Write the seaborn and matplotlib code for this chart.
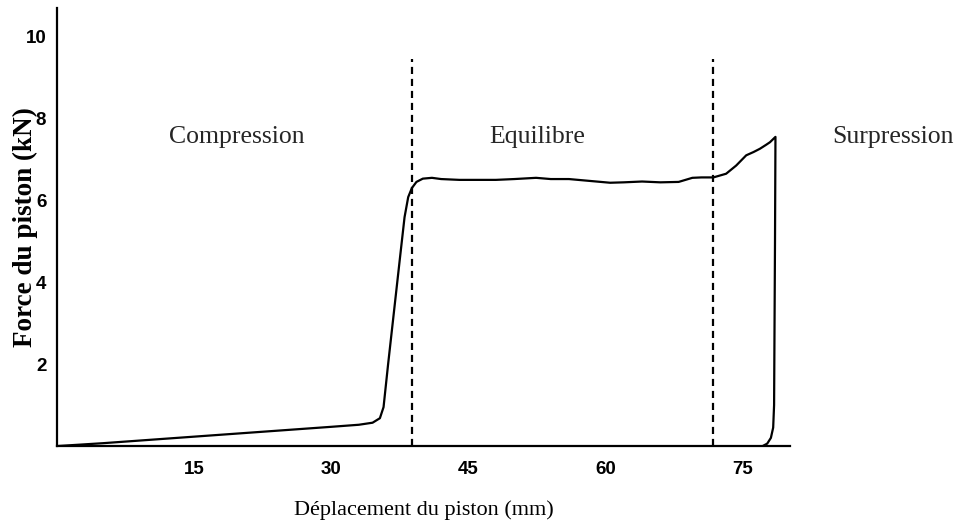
import matplotlib
matplotlib.use("Agg")
import matplotlib.pyplot as plt
import seaborn as sns
import pandas as pd

# Piston force vs displacement: loading, plateau, over-pressure, then unloading
displacement_mm = [0, 5, 10, 15, 20, 25, 30, 33, 34.5, 35.3, 35.7, 36.2, 36.9,
                   37.5, 38.0, 38.4, 38.8, 39.3, 40.0, 41, 42, 44, 46, 48, 50,
                   52.4, 54, 56, 58, 60.5, 62, 64, 66, 68, 69.5, 70.5, 71.8,
                   73.2, 74.3, 75.4, 76.2, 76.9, 77.6, 78.0, 78.6,
                   78.55, 78.45, 78.35, 78.1, 77.7, 77.2]
force_kN = [0, 0.07, 0.15, 0.23, 0.31, 0.39, 0.47, 0.52, 0.57, 0.68, 0.95, 2.0,
            3.4, 4.6, 5.59, 6.08, 6.3, 6.45, 6.53, 6.55, 6.52, 6.5, 6.5, 6.5,
            6.52, 6.55, 6.52, 6.52, 6.48, 6.43, 6.44, 6.46, 6.44, 6.45, 6.55,
            6.56, 6.56, 6.65, 6.85, 7.1, 7.18, 7.26, 7.36, 7.42, 7.55,
            5.0, 1.0, 0.45, 0.2, 0.06, 0.0]

phase_bounds = [38.8, 71.8]
phase_names = ["Compression", "Equilibre", "Surpression"]
phase_label_x = [19.6, 52.5, 91.5]

x_ticks = [15, 30, 45, 60, 75]
y_ticks = [2, 4, 6, 8, 10]

sns.set_theme(style="white")
plt.rcParams["font.family"] = ["Liberation Serif", "DejaVu Serif"]

fig = plt.figure(figsize=(9.73, 5.26), dpi=100)
ax = fig.add_axes([0.059, 0.152, 0.753, 0.833])

df = pd.DataFrame({"d": displacement_mm, "f": force_kN})
sns.lineplot(data=df, x="d", y="f", sort=False, estimator=None,
             color="black", linewidth=1.6, ax=ax)

for xb in phase_bounds:
    ax.plot([xb, xb], [0, 9.45], color="black", linestyle=(0, (3.2, 2.2)),
            linewidth=1.6)

for name, xl in zip(phase_names, phase_label_x):
    ax.text(xl, 7.54, name, ha="center", va="center", fontsize=18.5,
            clip_on=False)

ax.set_xlim(0, 80.2)
ax.set_ylim(0, 10.7)
ax.set_xticks(x_ticks)
ax.set_yticks(y_ticks)
ax.set_xticklabels([str(v) for v in x_ticks])
ax.set_yticklabels([str(v) for v in y_ticks])
for lbl in ax.get_xticklabels() + ax.get_yticklabels():
    lbl.set_fontfamily("Liberation Sans")
    lbl.set_fontweight("bold")
    lbl.set_fontsize(13.5)
ax.tick_params(axis="both", direction="in", length=5, width=1.3,
               color="black", labelcolor="black")
ax.tick_params(axis="x", pad=11)
ax.tick_params(axis="y", pad=8)

for side in ["top", "right"]:
    ax.spines[side].set_visible(False)
for side in ["left", "bottom"]:
    ax.spines[side].set_color("black")
    ax.spines[side].set_linewidth(1.6)

ax.set_xlabel("Déplacement du piston (mm)", fontsize=16, color="black")
ax.xaxis.label.set_va("center")
ax.xaxis.set_label_coords(0.5, -0.146)
ax.set_ylabel("Force du piston (kN)", fontsize=19.5, fontweight="bold",
              color="black")
ax.yaxis.label.set_va("center")
ax.yaxis.set_label_coords(-0.044, 0.5)

fig.savefig("out.png", dpi=100, facecolor="white")
